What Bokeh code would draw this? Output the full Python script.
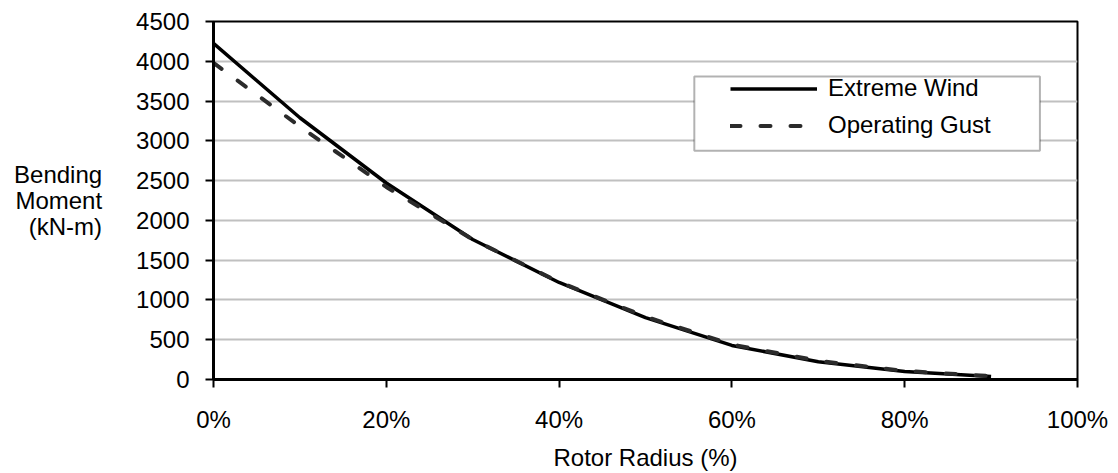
from bokeh.plotting import figure
from bokeh.models import (Range1d, FixedTicker, Legend, LegendItem,
                          BoxAnnotation, ColumnDataSource)
from bokeh.embed import file_html
from bokeh.resources import INLINE

# ---- data ----
radius_pct = [0, 10, 20, 30, 40, 50, 60, 70, 80, 90]
extreme_wind = [4225, 3290, 2470, 1760, 1220, 778, 428, 224, 101, 39]
operating_gust = [3980, 3180, 2420, 1760, 1225, 790, 440, 235, 108, 42]

x_ticks = [0, 20, 40, 60, 80, 100]
x_tick_labels = ["0%", "20%", "40%", "60%", "80%", "100%"]
y_ticks = [0, 500, 1000, 1500, 2000, 2500, 3000, 3500, 4000, 4500]
y_tick_labels = [str(v) for v in y_ticks]

series_names = ["Extreme Wind", "Operating Gust"]
x_title = "Rotor Radius (%)"
y_title = "Bending\nMoment\n(kN-m)"

FONT = "Liberation Sans"
FS = "24px"

p = figure(width=1118, height=473, output_backend="svg", toolbar_location=None,
           x_range=Range1d(0, 100), y_range=Range1d(0, 4500),
           min_border_left=213, min_border_right=41, min_border_top=21,
           min_border_bottom=87)
p.background_fill_color = "white"
p.border_fill_color = "white"
p.outline_line_color = "black"
p.outline_line_width = 2

# axes
for ax in (p.xaxis, p.yaxis):
    ax.axis_line_color = "black"
    ax.axis_line_width = 3
    ax.major_tick_line_color = "black"
    ax.major_tick_line_width = 2
    ax.major_tick_out = 8
    ax.major_tick_in = 0
    ax.minor_tick_line_color = None
    ax.major_label_text_font = FONT
    ax.major_label_text_font_size = FS
    ax.major_label_text_color = "black"
    ax.axis_label_text_font = FONT
    ax.axis_label_text_font_size = FS
    ax.axis_label_text_font_style = "normal"
    ax.axis_label_text_color = "black"

p.xaxis.ticker = FixedTicker(ticks=x_ticks)
p.xaxis.major_label_overrides = {t: l for t, l in zip(x_ticks, x_tick_labels)}
p.xaxis.major_label_standoff = 18
p.xaxis.axis_label = x_title
p.xaxis.axis_label_standoff = 8

p.yaxis.ticker = FixedTicker(ticks=y_ticks)
p.yaxis.major_label_overrides = {t: l for t, l in zip(y_ticks, y_tick_labels)}
p.yaxis.major_label_standoff = 16
p.yaxis.axis_label = y_title
p.yaxis.axis_label_orientation = "horizontal"
p.yaxis.axis_label_text_align = "center"
p.yaxis.axis_label_text_line_height = 0.97
p.yaxis.axis_label_standoff = 31

p.xgrid.visible = False
p.ygrid.grid_line_color = "#c0c0c0"
p.ygrid.grid_line_width = 2

src = ColumnDataSource(dict(x=radius_pct, ew=extreme_wind, og=operating_gust))
r1 = p.line("x", "ew", source=src, line_color="black", line_width=3.5,
            line_join="round")
r2 = p.line("x", "og", source=src, line_color="#2b2b2b", line_width=4,
            line_dash="10 20", line_cap="round", line_join="round")

# legend frame
box = BoxAnnotation(left=55.65, right=95.65, bottom=2875, top=3810,
                    fill_color="white", fill_alpha=1.0,
                    line_color="black", line_width=2)
p.add_layout(box)

legend = Legend(items=[LegendItem(label=series_names[0], renderers=[r1]),
                       LegendItem(label=series_names[1], renderers=[r2])],
                location=(509, 232), padding=8, spacing=9,
                glyph_width=87, glyph_height=27, label_standoff=11,
                label_text_font=FONT, label_text_font_size=FS,
                label_text_color="black",
                background_fill_alpha=0, border_line_alpha=0)
p.add_layout(legend)

open("out.html", "w").write(file_html(p, INLINE))
